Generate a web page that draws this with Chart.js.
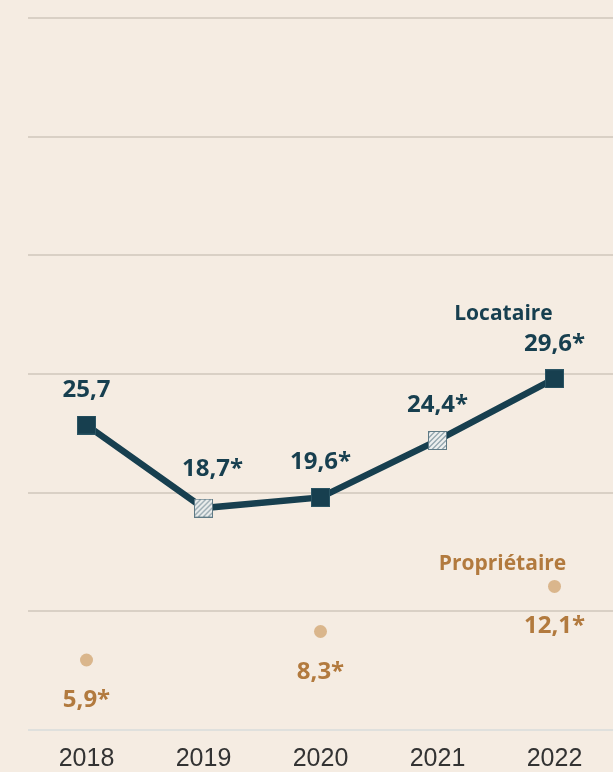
<!DOCTYPE html>
<html>
<head>
<meta charset="utf-8">
<script src="https://cdn.jsdelivr.net/npm/chart.js@4"></script>
<style>
  html, body { margin: 0; padding: 0; background: #f5ece2; }
  #wrap { width: 613px; height: 772px; }
</style>
</head>
<body>
<div id="wrap"><canvas id="c" width="613" height="772"></canvas></div>
<script>
// ---- data ----
const years = ['2018', '2019', '2020', '2021', '2022'];
const locataire = [25.7, 18.7, 19.6, 24.4, 29.6];
const proprietaire = [5.9, null, 8.3, null, 12.1];
const locataireStar = [false, true, true, true, true];
const proprietaireStar = [true, false, true, false, true];
const locataireHatched = [false, true, false, true, false];
const seriesNames = ['Locataire', 'Propriétaire'];
const yMin = 0, yMax = 60, yStep = 10;

// ---- styles ----
const LOC_COLOR = '#173f4f';
const PRO_TEXT = '#b27a3e';
const PRO_DOT = '#dab68c';
const GRID = '#d9d0c5';
const ZERO = '#dfe0dd';

function makeSquare(hatched) {
  const s = 19;
  const c = document.createElement('canvas');
  c.width = s; c.height = s;
  const g = c.getContext('2d');
  if (hatched) {
    g.fillStyle = '#94a6ae';
    g.fillRect(0, 0, s, s);
    g.save();
    g.beginPath(); g.rect(1, 1, s - 2, s - 2); g.clip();
    g.strokeStyle = '#eef0ef';
    g.lineWidth = 2.2;
    for (let k = -s; k < 2 * s; k += 5) {
      g.beginPath();
      g.moveTo(k, s);
      g.lineTo(k + s, 0);
      g.stroke();
    }
    g.restore();
    g.strokeStyle = '#5f7a85';
    g.lineWidth = 1;
    g.strokeRect(0.5, 0.5, s - 1, s - 1);
  } else {
    g.fillStyle = LOC_COLOR;
    g.fillRect(0, 0, s, s);
    g.strokeStyle = '#2b5564';
    g.lineWidth = 1;
    g.strokeRect(0.5, 0.5, s - 1, s - 1);
  }
  return c;
}
const solidSq = makeSquare(false);
const hatchSq = makeSquare(true);

function fmt(v, star) {
  return v.toFixed(1).replace('.', ',') + (star ? '*' : '');
}

const labelPlugin = {
  id: 'valueLabels',
  afterDatasetsDraw(chart, args, opts) {
    const ctx = chart.ctx;
    ctx.save();
    ctx.textAlign = 'center';
    ctx.textBaseline = 'alphabetic';
    opts.series.forEach((cfg, di) => {
      const meta = chart.getDatasetMeta(di);
      const data = chart.data.datasets[di].data;
      ctx.fillStyle = cfg.color;
      let last = null;
      ctx.font = '700 24px "Open Sans"';
      meta.data.forEach((el, i) => {
        if (data[i] === null || data[i] === undefined) return;
        last = el;
        const n = (cfg.nudge && cfg.nudge[i]) || { dx: 0, dy: 0 };
        ctx.fillText(fmt(data[i], cfg.stars[i]), el.x + n.dx, el.y + cfg.dy + n.dy);
      });
      if (last) {
        ctx.font = '700 21px "Open Sans"';
        ctx.fillText(cfg.name, last.x + cfg.nameDx, last.y + cfg.nameDy);
      }
    });
    ctx.restore();
  }
};

new Chart(document.getElementById('c'), {
  type: 'line',
  data: {
    labels: years,
    datasets: [
      {
        label: seriesNames[0],
        data: locataire,
        borderColor: LOC_COLOR,
        borderWidth: 6.5,
        backgroundColor: LOC_COLOR,
        pointStyle: locataireHatched.map(h => h ? hatchSq : solidSq),
        pointRadius: 9,
        tension: 0,
        order: 1
      },
      {
        label: seriesNames[1],
        data: proprietaire,
        showLine: false,
        pointStyle: 'circle',
        pointRadius: 6.5,
        pointBackgroundColor: PRO_DOT,
        pointBorderWidth: 0,
        borderColor: PRO_DOT,
        backgroundColor: PRO_DOT,
        order: 2
      }
    ]
  },
  options: {
    responsive: false,
    animation: false,
    events: [],
    layout: { autoPadding: false, padding: { top: 18, left: 0, right: 0, bottom: 0 } },
    plugins: {
      legend: { display: false },
      tooltip: { enabled: false },
      valueLabels: {
        series: [
          { color: LOC_COLOR, stars: locataireStar, dy: -28,
            nudge: { 1: { dx: 9, dy: -4 } },
            name: seriesNames[0], nameDx: -51, nameDy: -59 },
          { color: PRO_TEXT, stars: proprietaireStar, dy: 47,
            name: seriesNames[1], nameDx: -52, nameDy: -16 }
        ]
      }
    },
    scales: {
      x: {
        offset: true,
        grid: { display: false, drawTicks: false },
        border: { display: false },
        ticks: {
          color: '#333333',
          font: { family: '"Liberation Sans", Arial, sans-serif', size: 25 },
          padding: 14
        },
        afterFit(scale) { scale.height = 42; scale.paddingLeft = 0; scale.paddingRight = 0; }
      },
      y: {
        min: yMin,
        max: yMax,
        ticks: { display: false, stepSize: yStep },
        border: { display: false },
        grid: {
          drawTicks: false,
          lineWidth: 2,
          color: ctx => (ctx.tick && ctx.tick.value === 0) ? ZERO : GRID
        },
        afterFit(scale) { scale.width = 28; }
      }
    }
  },
  plugins: [labelPlugin]
});
</script>
</body>
</html>
